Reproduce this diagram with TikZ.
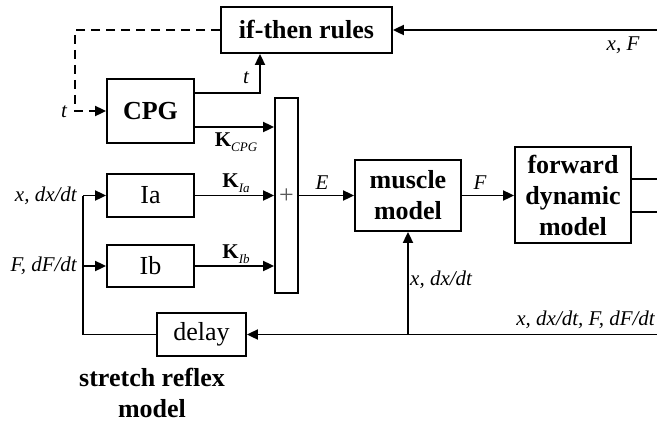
\documentclass[tikz,border=0pt]{standalone}
\usepackage{fontspec}
\setmainfont{Liberation Serif}
\usetikzlibrary{arrows.meta}
\tikzset{
  blk/.style={draw, line width=1.8pt, rectangle, inner sep=0pt, align=center},
  bigb/.style={font=\fontsize{26}{31}\selectfont\bfseries},
  reg/.style={font=\fontsize{26}{30}\selectfont},
  lbl/.style={font=\fontsize{21}{24}\selectfont\itshape, inner sep=1pt},
  wire/.style={line width=1.8pt},
  arr/.style={wire, -{Triangle[length=11pt,width=10pt]}},
  dsh/.style={arr, dash pattern=on 9pt off 6pt}
}
\newcommand{\Ksub}[1]{\textbf{\upshape K}\raisebox{-0.55ex}{\fontsize{13}{13}\selectfont\itshape #1}}
\begin{document}
\begin{tikzpicture}[x=1pt,y=-1pt]
\useasboundingbox (0,0) rectangle (657,424);
% blocks
\node[blk,bigb,minimum width=171pt,minimum height=46pt] (ifthen) at (306.5,30) {if-then rules};
\node[blk,bigb,minimum width=87pt,minimum height=64pt] (cpg) at (150.5,111) {CPG};
\node[blk,reg,minimum width=87pt,minimum height=43pt] (ia) at (150.5,195.5) {Ia};
\node[blk,reg,minimum width=87pt,minimum height=42pt] (ib) at (150.5,266) {Ib};
\node[blk,minimum width=23pt,minimum height=195pt] (sum) at (286.5,195.5) {};
\node[font=\fontsize{26}{26}\selectfont, text=black!65] (plus) at (286.5,196) {+};
\node[blk,bigb,minimum width=106pt,minimum height=71pt] (muscle) at (408,195.5) {muscle\\model};
\node[blk,bigb,minimum width=116pt,minimum height=96pt] (fwd) at (573,195) {forward\\dynamic\\model};
\node[blk,reg,minimum width=89pt,minimum height=43pt] (delay) at (201.5,334.5) {delay};
\node[bigb,align=center] (srm) at (152,393) {stretch reflex\\model};
% coordinates
\coordinate (rin1) at (657,30);
\coordinate (rin2) at (657,334.5);
\coordinate (out1) at (657,179);
\coordinate (out2) at (657,212);
\coordinate (jia) at (83,195.5);
\coordinate (jib) at (83,266);
\coordinate (jdl) at (83,334.5);
\coordinate (jm) at (408,334.5);
\coordinate (dtop) at (75,30);
% connectors
\draw[arr] (rin1) -- (ifthen.east);
\draw[dsh] (ifthen.west) -- (dtop) -- (75,111) -- (cpg.west);
\draw[arr] (cpg.east |- 0,93) -| (ifthen.south -| 260,0);
\draw[arr] (cpg.east |- 0,127) -- (sum.west |- 0,127);
\draw[arr] (ia.east) -- (sum.west |- ia.east);
\draw[arr] (ib.east) -- (sum.west |- ib.east);
\draw[wire] (delay.west) -- (jdl) -- (jia);
\draw[arr] (jia) -- (ia.west);
\draw[arr] (jib) -- (ib.west);
\draw[arr] (rin2) -- (delay.east);
\draw[arr] (jm) -- (muscle.south);
\draw[arr] (sum.east |- muscle.west) -- (muscle.west);
\draw[arr] (muscle.east) -- (fwd.west |- muscle.east);
\draw[wire] (fwd.east |- out1) -- (out1);
\draw[wire] (fwd.east |- out2) -- (out2);
% labels
\node[lbl] (lxf) at (623,45) {x, F};
\node[lbl] (lt1) at (64,112) {t};
\node[lbl] (lt2) at (246,78) {t};
\node[lbl] (lkc) at (236,142) {\Ksub{CPG}};
\node[lbl] (lka) at (236,183) {\Ksub{Ia}};
\node[lbl] (lkb) at (236,254) {\Ksub{Ib}};
\node[lbl,anchor=east] (lxin) at (78,196) {x, dx/dt};
\node[lbl,anchor=east] (lfin) at (78,266) {F, dF/dt};
\node[lbl] (le) at (322,183) {E};
\node[lbl] (lf) at (480,183) {F};
\node[lbl,anchor=west] (lxm) at (409,280) {x, dx/dt};
\node[lbl,anchor=east] (lall) at (656,320) {x, dx/dt, F, dF/dt};
\end{tikzpicture}
\end{document}
